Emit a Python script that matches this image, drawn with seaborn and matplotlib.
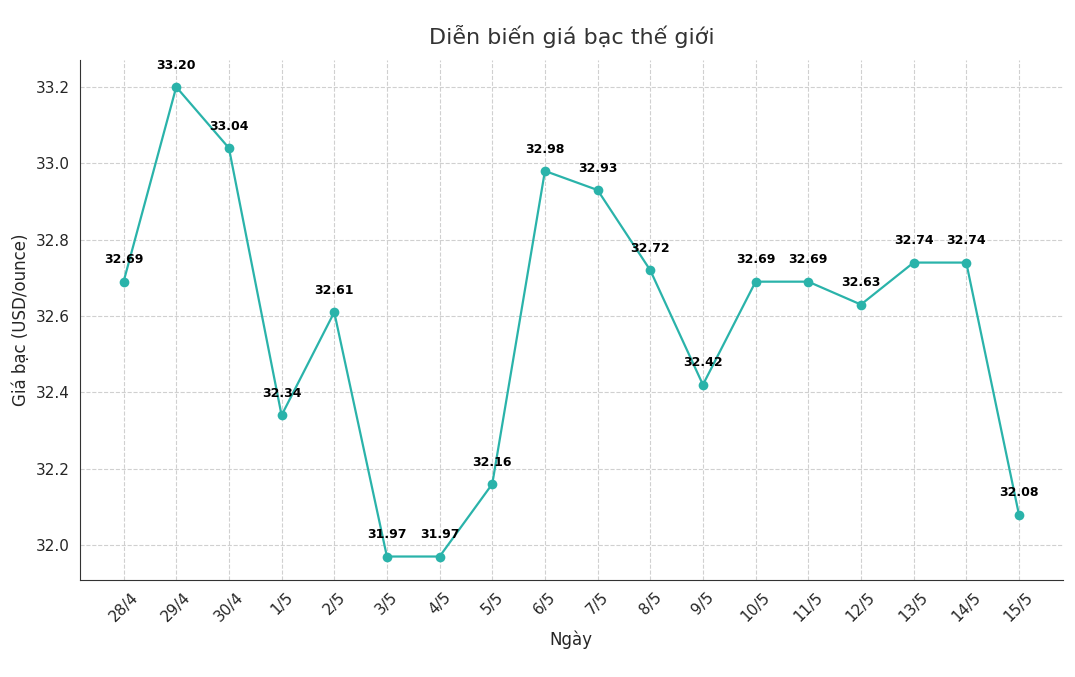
import matplotlib
matplotlib.use("Agg")
import matplotlib.pyplot as plt
import seaborn as sns
import pandas as pd

dates = ["28/4","29/4","30/4","1/5","2/5","3/5","4/5","5/5","6/5","7/5","8/5","9/5","10/5","11/5","12/5","13/5","14/5","15/5"]
prices = [32.69,33.20,33.04,32.34,32.61,31.97,31.97,32.16,32.98,32.93,32.72,32.42,32.69,32.69,32.63,32.74,32.74,32.08]

df = pd.DataFrame({"x": range(len(dates)), "price": prices})
sns.set_style("whitegrid")
fig, ax = plt.subplots(figsize=(10.75, 6.77), dpi=100)
fig.subplots_adjust(left=0.074, right=0.989, top=0.911, bottom=0.143)
color = "#2ab3aa"
sns.lineplot(data=df, x="x", y="price", ax=ax, color=color, marker="o", markersize=7,
             markeredgewidth=0, linewidth=1.6)
for i, p in enumerate(prices):
    ax.annotate(f"{p:.2f}", (i, p), xytext=(0, 11), textcoords="offset points",
                ha="center", va="bottom", fontsize=9, fontweight="bold", color="black")
ax.set_xticks(range(len(dates)))
ax.set_xticklabels(dates, rotation=45, fontsize=11)
ax.tick_params(axis="y", labelsize=11)
ax.set_xlim(-0.836, 17.84)
ax.set_ylim(31.908, 33.27)
ax.set_yticks([32.0, 32.2, 32.4, 32.6, 32.8, 33.0, 33.2])
ax.grid(True, linestyle="--", color="#d0d0d0", linewidth=0.8)
for s in ["top", "right"]:
    ax.spines[s].set_visible(False)
for s in ["left", "bottom"]:
    ax.spines[s].set_color("#333333")
ax.set_xlabel("Ngày", fontsize=12)
ax.set_ylabel("Giá bạc (USD/ounce)", fontsize=12)
ax.set_title("Diễn biến giá bạc thế giới", fontsize=16, color="#333333", pad=12)
fig.savefig("out.png", dpi=100)
